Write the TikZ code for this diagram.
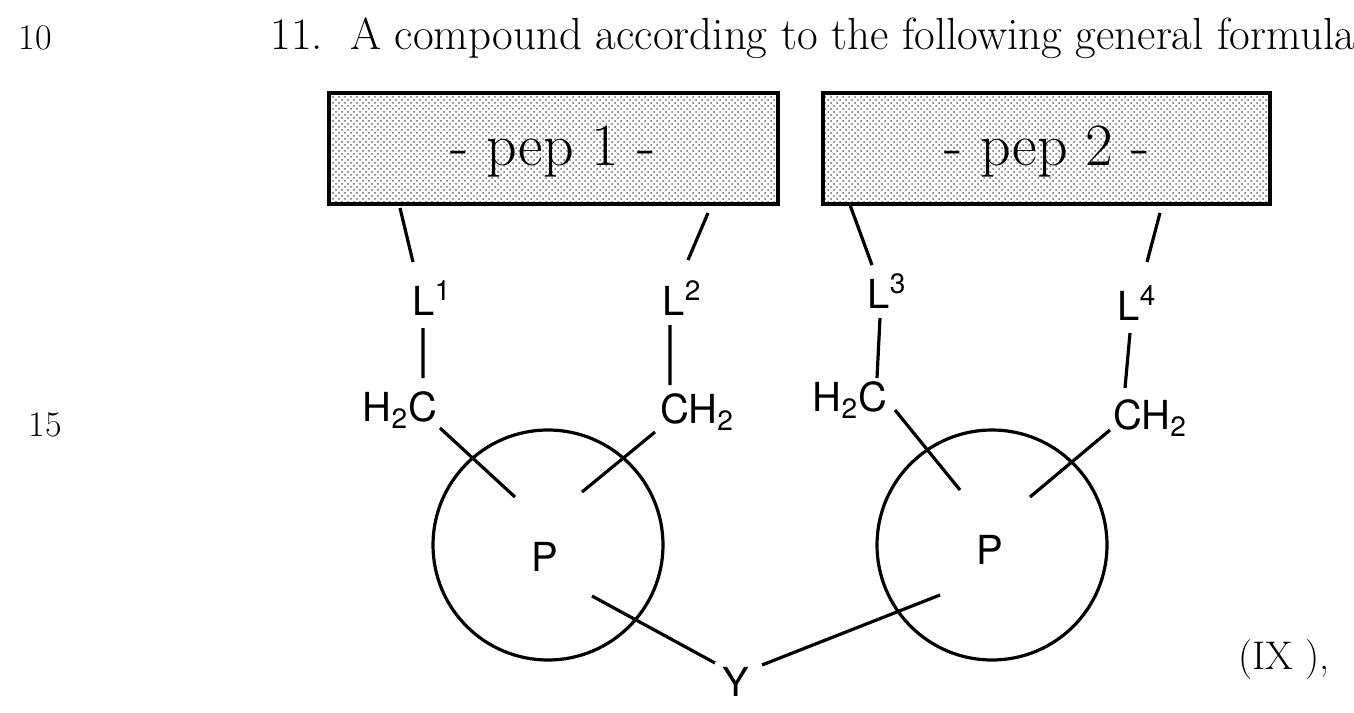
\documentclass[tikz,border=0pt]{standalone}
\usepackage{fontspec}
\setmainfont{Latin Modern Roman}
\newfontfamily\heros{TeX Gyre Heros}
\usetikzlibrary{patterns}
\begin{document}
\begin{tikzpicture}[x=0.5pt,y=-0.5pt,
    pepbox/.style={draw,line width=1.6pt,pattern=crosshatch dots,pattern color=gray!80!black},
    ring/.style={draw,line width=1.6pt},
    bond/.style={line width=1.6pt},
    atom/.style={font=\heros\fontsize{20}{22}\selectfont,inner sep=0pt},
    margin/.style={font=\fontsize{18}{20}\selectfont,inner sep=0pt}]
    \useasboundingbox (0,0) rectangle (1354,712);
    \clip (0,0) rectangle (1354,712);

    % margin text
    \node [margin] (n10) at (35,38) {10};
    \node [margin] (n15) at (45,425) {15};
    \node [margin,font=\fontsize{22.5}{24}\selectfont,anchor=west] (claim) at (270,38) {11.\ \ A compound according to the following general formula};
    \node [margin,font=\fontsize{20}{22}\selectfont,anchor=west] (ix) at (1238,660) {(IX ),};

    % peptide boxes
    \draw [pepbox] (329,93) rectangle (778,204);
    \draw [pepbox] (823,93) rectangle (1270,204);
    \node [font=\fontsize{30}{32}\selectfont] (pep1) at (553,152) {- pep 1 -};
    \node [font=\fontsize{30}{32}\selectfont] (pep2) at (1047,152) {- pep 2 -};

    % rings
    \draw [ring] (548,545) circle (115);
    \draw [ring] (992,545) circle (115);

    \begin{scope}[every node/.style={atom}]
        \node (p1) at (545,557) {P};
        \node (p2) at (990,550) {P};
        \node (l1) at (432,298) {L\textsuperscript{1}};
        \node (l2) at (682,298) {L\textsuperscript{2}};
        \node (l3) at (887,291) {L\textsuperscript{3}};
        \node (l4) at (1137,303) {L\textsuperscript{4}};
        \node (c1) at (400,410) {H\textsubscript{2}C};
        \node (c2) at (697,412) {CH\textsubscript{2}};
        \node (c3) at (850,400) {H\textsubscript{2}C};
        \node (c4) at (1150,418) {CH\textsubscript{2}};
        \node (y) at (736,682) {Y};
    \end{scope}

    % bond end points
    \coordinate (b1a) at (400,208); \coordinate (b1b) at (413,262);
    \coordinate (b1c) at (423,328); \coordinate (b1d) at (423,378);
    \coordinate (b2a) at (708,213); \coordinate (b2b) at (688,260);
    \coordinate (b2c) at (670,325); \coordinate (b2d) at (670,385);
    \coordinate (b3a) at (850,205); \coordinate (b3b) at (872,265);
    \coordinate (b3c) at (880,318); \coordinate (b3d) at (877,378);
    \coordinate (b4a) at (1160,213); \coordinate (b4b) at (1147,262);
    \coordinate (b4c) at (1130,333); \coordinate (b4d) at (1125,388);
    \coordinate (r1a) at (440,428); \coordinate (r1b) at (515,497);
    \coordinate (r2a) at (655,432); \coordinate (r2b) at (582,492);
    \coordinate (r3a) at (895,410); \coordinate (r3b) at (960,490);
    \coordinate (r4a) at (1110,430); \coordinate (r4b) at (1030,497);
    \coordinate (y1) at (592,596); \coordinate (y1e) at (715,663);
    \coordinate (y2) at (940,595); \coordinate (y2e) at (762,665);

    \draw [bond]
        (b1a) -- (b1b) (b1c) -- (b1d)
        (b2a) -- (b2b) (b2c) -- (b2d)
        (b3a) -- (b3b) (b3c) -- (b3d)
        (b4a) -- (b4b) (b4c) -- (b4d)
        (r1a) -- (r1b) (r2a) -- (r2b)
        (r3a) -- (r3b) (r4a) -- (r4b)
        (y1) -- (y1e) (y2) -- (y2e)
    ;
\end{tikzpicture}
\end{document}
